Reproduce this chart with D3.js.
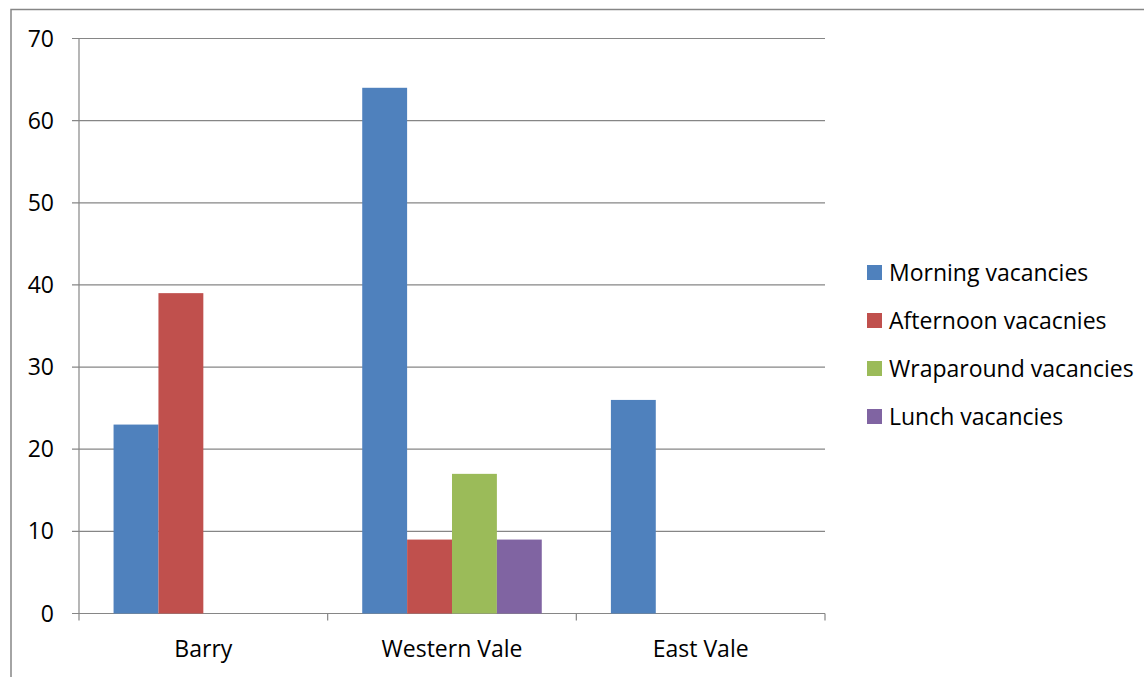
<!DOCTYPE html>
<html><head><meta charset="utf-8">
<script src="https://cdn.jsdelivr.net/npm/d3@7"></script>
<style>body{margin:0;background:#fff}svg{display:block}text{font-family:"Open Sans",sans-serif;fill:#000}</style>
</head><body><svg id="c" width="1144" height="677"></svg>
<script>
const categories = ["Barry", "Western Vale", "East Vale"];
const seriesNames = ["Morning vacancies", "Afternoon vacacnies", "Wraparound vacancies", "Lunch vacancies"];
const morning = [23, 64, 26];
const afternoon = [39, 9, 0];
const wraparound = [0, 17, 0];
const lunch = [0, 9, 0];
const yTicks = [0, 10, 20, 30, 40, 50, 60, 70];
const colors = ["#4F81BD", "#C0504D", "#9BBB59", "#8064A2"];

const series = [morning, afternoon, wraparound, lunch];
const svg = d3.select("#c");
const L = 79, R = 825, T = 38.5, B = 613.5;

svg.append("rect").attr("x", 11).attr("y", 9.5).attr("width", 1200).attr("height", 800)
  .attr("fill", "none").attr("stroke", "#868686").attr("stroke-width", 1.5);

const x = d3.scaleBand().domain(categories).range([L, R]).paddingInner(0).paddingOuter(0);
const xs = d3.scaleBand().domain(d3.range(4)).range([0, x.bandwidth()]).paddingOuter(0.77).paddingInner(0);
const y = d3.scaleLinear().domain([0, 70]).range([B, T]);

// gridlines
svg.append("g").selectAll("line").data(yTicks).join("line")
  .attr("x1", L - 7).attr("x2", R).attr("y1", d => y(d)).attr("y2", d => y(d))
  .attr("stroke", "#868686").attr("stroke-width", 1.2);

// bars
categories.forEach((c, ci) => {
  series.forEach((s, si) => {
    if (s[ci] > 0) {
      svg.append("rect").attr("x", x(c) + xs(si)).attr("width", xs.bandwidth())
        .attr("y", y(s[ci])).attr("height", y(0) - y(s[ci])).attr("fill", colors[si]);
    }
  });
});

// y axis
svg.append("line").attr("x1", L).attr("x2", L).attr("y1", T).attr("y2", B)
  .attr("stroke", "#868686").attr("stroke-width", 1.2);
svg.append("g").selectAll("text").data(yTicks).join("text")
  .attr("x", 54).attr("y", d => y(d) + 8).attr("text-anchor", "end")
  .attr("font-size", 23).text(d => d);

// x axis ticks
const xt = categories.map(c => x(c)).concat([R]);
svg.append("g").selectAll("line").data(xt).join("line")
  .attr("x1", d => d).attr("x2", d => d).attr("y1", B).attr("y2", B + 7)
  .attr("stroke", "#868686").attr("stroke-width", 1.2);
svg.append("g").selectAll("text").data(categories).join("text")
  .attr("x", d => x(d) + x.bandwidth() / 2).attr("y", 657).attr("text-anchor", "middle")
  .attr("font-size", 23).text(d => d);

// legend
const lg = svg.append("g");
seriesNames.forEach((n, i) => {
  const ly = 272.5 + i * 48;
  lg.append("rect").attr("x", 867).attr("y", ly - 7.5).attr("width", 15).attr("height", 15).attr("fill", colors[i]);
  lg.append("text").attr("x", 889).attr("y", ly + 8).attr("font-size", 23).text(n);
});
</script></body></html>
